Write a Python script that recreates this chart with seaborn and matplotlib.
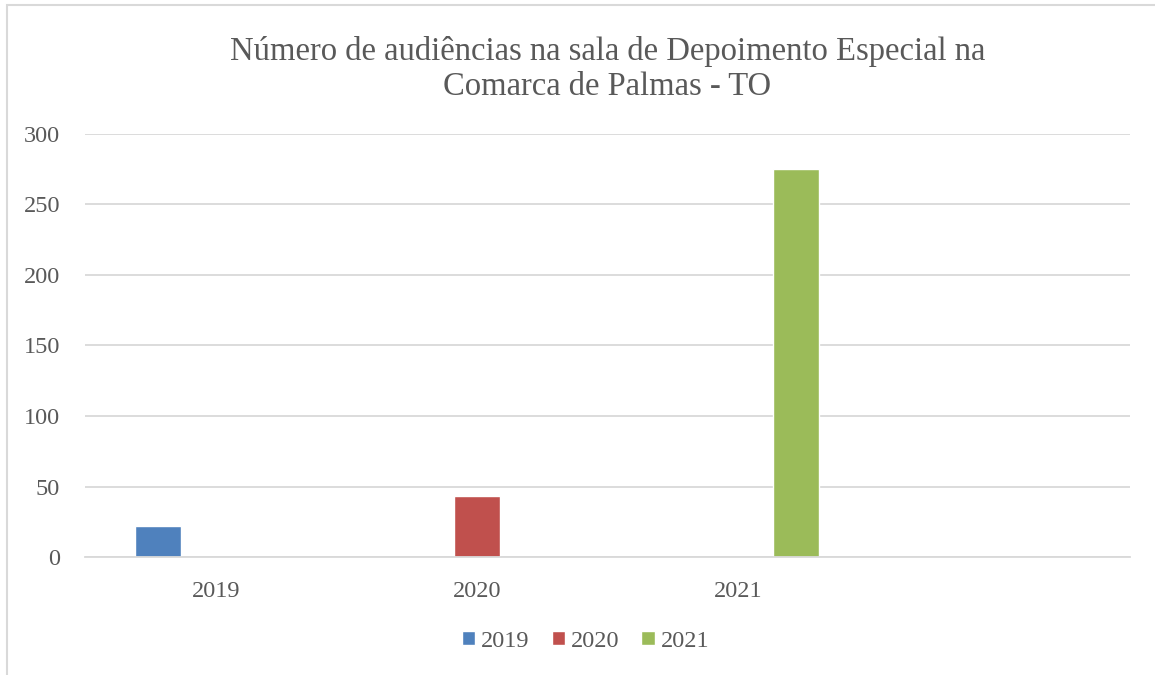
import pandas as pd
import numpy as np
import seaborn as sns
import matplotlib.pyplot as plt
from matplotlib.patches import Rectangle

# dados
anos = ['2019', '2020', '2021']
audiencias = [22, 43, 275]
cores = ['#4F81BD', '#C0504D', '#9BBB59']
yticks = [0, 50, 100, 150, 200, 250, 300]

df = pd.DataFrame({'ano': anos, 'serie': anos, 'valor': audiencias})

sns.set_style('white')
plt.rcParams['font.family'] = ['Liberation Serif', 'DejaVu Serif']
texto = '#595959'

fig = plt.figure(figsize=(11.55, 6.75), dpi=100)
ax = fig.add_axes([0.0736, 0.1748, 0.9048, 0.6267])

sns.barplot(
    data=df, x='ano', y='valor', hue='serie', order=anos, hue_order=anos,
    palette=cores, width=0.66, gap=0.2, dodge=True, saturation=1,
    ax=ax, legend=True
)

ax.set_xlim(-0.5, 3.5)
ax.set_ylim(0, 300)
ax.set_yticks(yticks)
ax.set_xlabel('')
ax.set_ylabel('')
ax.grid(axis='y', color='#D9D9D9', linewidth=1.3)
ax.set_axisbelow(True)
for s in ['top', 'right', 'left']:
    ax.spines[s].set_visible(False)
ax.spines['bottom'].set_color('#D9D9D9')
ax.spines['bottom'].set_linewidth(1.3)
ax.tick_params(axis='both', length=0, labelsize=17.5, labelcolor=texto)
ax.tick_params(axis='x', pad=17)
ax.tick_params(axis='y', pad=18)

ax.set_title('Número de audiências na sala de Depoimento Especial na\nComarca de Palmas - TO',
             fontsize=23.5, color=texto, pad=28, linespacing=1.2)

h, l = ax.get_legend_handles_labels()
ax.get_legend().remove()
fig.legend(h, l, loc='center', bbox_to_anchor=(0.507, 0.05), ncol=3, frameon=False,
           fontsize=17.5, labelcolor=texto, handlelength=0.55, handleheight=0.55,
           handletextpad=0.25, columnspacing=0.9)

# moldura do gráfico
fig.patches.append(Rectangle((0.006, -0.01), 1.0, 1.003, transform=fig.transFigure,
                             fill=False, edgecolor='#D9D9D9', linewidth=1.5))

fig.savefig('out.png', dpi=100)
